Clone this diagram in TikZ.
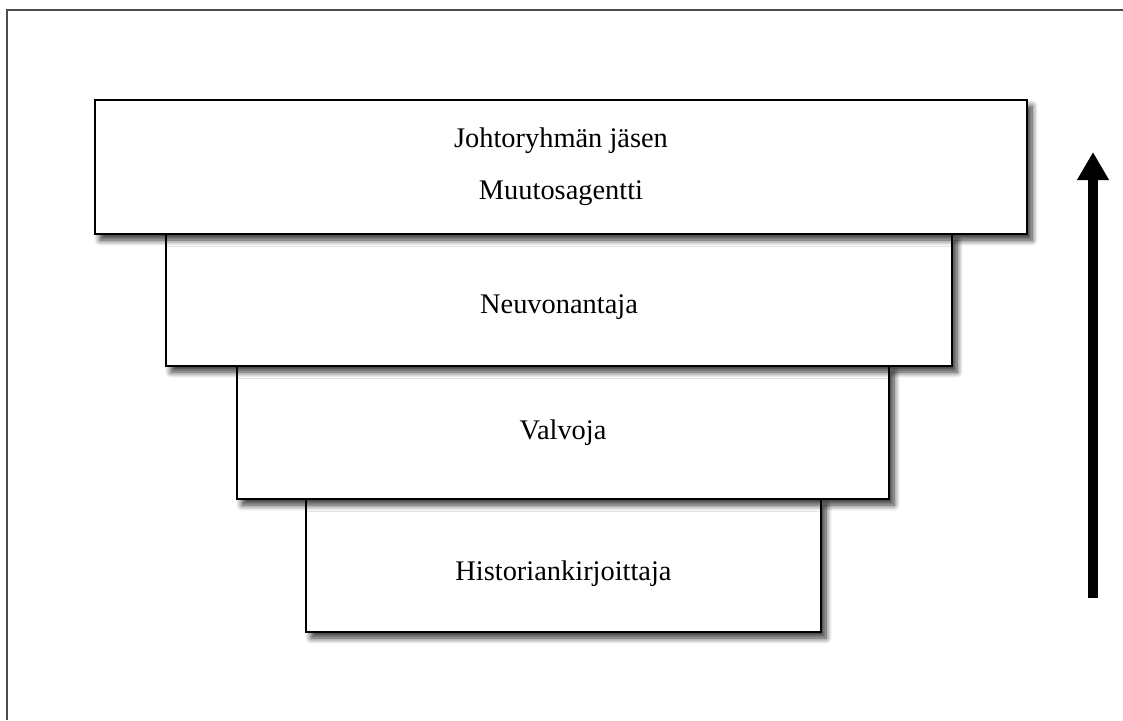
\documentclass[tikz,border=0pt]{standalone}
\usepackage{fontspec}
\setmainfont{Liberation Serif}
\usetikzlibrary{arrows.meta}
\usetikzlibrary{shadows.blur}

\begin{document}
\begin{tikzpicture}[x=0.5pt,y=-0.5pt,
  level/.style={rectangle,draw=black,fill=white,line width=1.3pt,
    align=center,font=\fontsize{14.2}{26}\selectfont,
    blur shadow={shadow xshift=2.5pt,shadow yshift=-3pt,shadow blur steps=8,shadow blur radius=3pt,shadow opacity=80}}]
\useasboundingbox (0,0) rectangle (1123,720);
\draw [line width=1.4pt,black!70] (1123,10) -- (7,10) -- (7,720);
\node at (563.5,565.5) (historian) [level,minimum width=257.5pt,minimum height=66.5pt] {\raisebox{-4pt}[\height][\depth]{Historiankirjoittaja}};
\node at (563,432.5) (valvoja) [level,minimum width=326pt,minimum height=66.5pt] {Valvoja};
\node at (559,300) (neuvo) [level,minimum width=393pt,minimum height=66pt] {\raisebox{-3.5pt}[\height][\depth]{Neuvonantaja}};
\node at (561,167) (johto) [level,minimum width=466pt,minimum height=67pt] {Johtoryhmän jäsen\\Muutosagentti};
\coordinate (arrowfoot) at (1093,598);
\coordinate (arrowtip) at (1093,152);
\draw [line width=5pt,-{Triangle[width=15pt,length=14pt]}] (arrowfoot) -- (arrowtip);
\end{tikzpicture}
\end{document}
